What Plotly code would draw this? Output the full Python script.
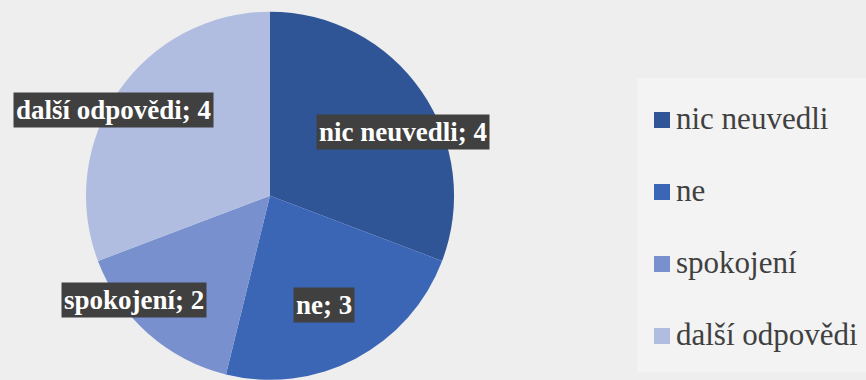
import math
import plotly.graph_objects as go

categories = ["nic neuvedli", "ne", "spokojení", "další odpovědi"]
values = [4, 3, 2, 4]
colors = ["#2F5597", "#3B66B6", "#7890CE", "#B0BDE0"]

SERIF = "Liberation Serif"
W, H = 866, 380
# pie geometry (pixels)
dom_x = [0.0993, 0.5243]
dom_y = [0.0, 0.97]
cx = (dom_x[0] + dom_x[1]) / 2 * W
cy = (1 - (dom_y[0] + dom_y[1]) / 2) * H
r = (dom_y[1] - dom_y[0]) * H / 2

# label placement: radial fraction and angle nudge (degrees) per slice
label_frac = [0.80, 0.66, 0.93, 0.97]
label_nudge = [9, 1.5, 11, -6]

fig = go.Figure()
fig.add_trace(go.Pie(
    labels=categories, values=values, sort=False, direction="clockwise",
    rotation=0, marker=dict(colors=colors, line=dict(width=0)),
    textinfo="none", hoverinfo="label+value", showlegend=False,
    domain=dict(x=dom_x, y=dom_y),
))

total = sum(values)
acc = 0
for i, (cat, v) in enumerate(zip(categories, values)):
    mid = (acc + v / 2) / total * 360 + label_nudge[i]
    acc += v
    a = math.radians(mid)
    px = cx + label_frac[i] * r * math.sin(a)
    py = cy - label_frac[i] * r * math.cos(a)
    fig.add_annotation(
        x=px / W, y=1 - py / H, xref="paper", yref="paper",
        text=f"<b>{cat}; {v}</b>", showarrow=False,
        font=dict(family=SERIF, size=27, color="white"),
        bgcolor="#404040", borderpad=2, xanchor="center", yanchor="middle",
    )

# custom legend
leg_x0 = 654
leg_y0 = 118
leg_step = 72
msz = 16
fig.add_shape(type="rect", xref="paper", yref="paper",
              x0=637 / W, x1=1.0, y0=1 - 372 / H, y1=1 - 78 / H,
              fillcolor="#F3F3F3", line=dict(width=0), layer="below")
for i, cat in enumerate(categories):
    yc = leg_y0 + i * leg_step
    fig.add_shape(type="rect", xref="paper", yref="paper",
                  x0=leg_x0 / W, x1=(leg_x0 + msz) / W,
                  y0=1 - (yc + msz / 2 + 2) / H, y1=1 - (yc - msz / 2 + 2) / H,
                  fillcolor=colors[i], line=dict(width=0))
    fig.add_annotation(
        x=(leg_x0 + msz + 4) / W, y=1 - yc / H, xref="paper", yref="paper",
        text=cat, showarrow=False, xanchor="left", yanchor="middle",
        font=dict(family=SERIF, size=31, color="#404040"),
    )

fig.update_layout(
    width=W, height=H, margin=dict(l=0, r=0, t=0, b=0),
    paper_bgcolor="#EEEEEE", plot_bgcolor="#EEEEEE",
    showlegend=False,
)
fig.write_html("out.html")
